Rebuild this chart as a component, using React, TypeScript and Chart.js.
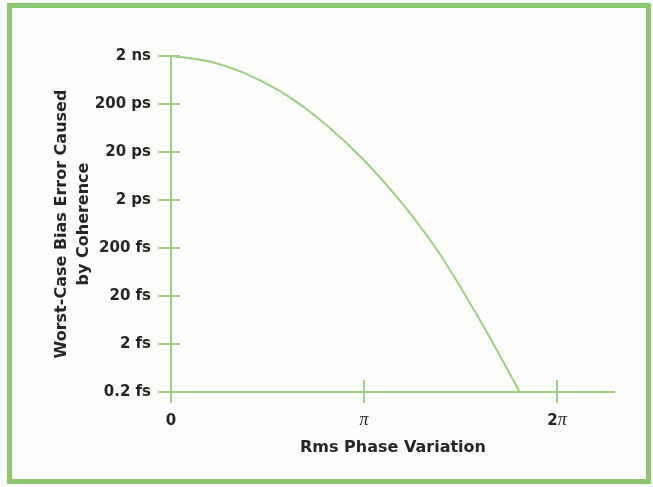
import React, { useEffect, useRef } from 'react';
import { Chart, registerables } from 'chart.js';

Chart.register(...registerables);

// Rms phase variation, in multiples of pi
const phaseInPi = [0, 0.2, 0.4, 0.6, 0.8, 1.0, 1.2, 1.4, 1.6, 1.7, 1.806];
// Worst-case bias error, in seconds
const biasSeconds = [2e-9, 1.53e-9, 8.1e-10, 3.03e-10, 7.6e-11, 1.35e-11, 1.66e-12, 1.35e-13, 6.3e-15, 1.22e-15, 2e-16];

const yTickValues = [2e-9, 2e-10, 2e-11, 2e-12, 2e-13, 2e-14, 2e-15, 2e-16];
const yTickLabels = ['2 ns', '200 ps', '20 ps', '2 ps', '200 fs', '20 fs', '2 fs', '0.2 fs'];
const xTickValues = [0, 1, 2];
const xTickLabels = ['0', 'π', '2π'];

const GREEN = '#9ccf82';
const FRAME = '#8cc670';
const TEXT = '#262626';
const SANS = '"DejaVu Sans", sans-serif';

const axesPlugin = {
  id: 'crossAxes',
  beforeDatasetsDraw(chart: any) {
    const { ctx } = chart;
    const xs = chart.scales.x;
    const ys = chart.scales.y;
    const x0 = xs.getPixelForValue(0);
    const yTop = ys.getPixelForValue(ys.max);
    const yBot = ys.getPixelForValue(ys.min);
    ctx.save();
    ctx.strokeStyle = GREEN;
    ctx.lineWidth = 2;
    ctx.beginPath();
    // y axis
    ctx.moveTo(x0, yTop);
    ctx.lineTo(x0, yBot + 11);
    // x axis
    ctx.moveTo(x0 - 13, yBot);
    ctx.lineTo(xs.right, yBot);
    // y ticks
    yTickValues.forEach((v) => {
      const py = ys.getPixelForValue(v);
      ctx.moveTo(x0 - 13, py);
      ctx.lineTo(x0 + 9, py);
    });
    // x ticks
    xTickValues.forEach((v) => {
      if (v === 0) return;
      const px = xs.getPixelForValue(v);
      ctx.moveTo(px, yBot - 12);
      ctx.lineTo(px, yBot + 11);
    });
    ctx.stroke();

    // x tick labels: coefficient in bold sans, pi in italic serif
    ctx.fillStyle = TEXT;
    ctx.textBaseline = 'alphabetic';
    ctx.textAlign = 'left';
    const numFont = `bold 15px ${SANS}`;
    const piFont = `italic 18px "Liberation Serif", serif`;
    xTickValues.forEach((v, i) => {
      const label = xTickLabels[i];
      const hasPi = label.endsWith('π');
      const num = hasPi ? label.slice(0, -1) : label;
      ctx.font = numFont;
      const wn = ctx.measureText(num).width;
      ctx.font = piFont;
      const wp = hasPi ? ctx.measureText('π').width : 0;
      const px = xs.getPixelForValue(v);
      const sx = px - (wn + wp) / 2;
      ctx.font = numFont;
      ctx.fillText(num, sx, 425);
      if (hasPi) {
        ctx.font = piFont;
        ctx.fillText('π', sx + wn, 425);
      }
    });
    ctx.restore();
  },
};

export default function App() {
  const ref = useRef<HTMLCanvasElement>(null);

  useEffect(() => {
    if (!ref.current) return;
    const chart = new Chart(ref.current, {
      type: 'line',
      data: {
        datasets: [
          {
            data: phaseInPi.map((x, i) => ({ x, y: biasSeconds[i] })),
            borderColor: GREEN,
            borderWidth: 2,
            pointRadius: 0,
            cubicInterpolationMode: 'monotone',
            clip: false as any,
            fill: false,
          },
        ],
      },
      options: {
        animation: false,
        responsive: false,
        devicePixelRatio: 1,
        layout: { padding: { left: 0, top: 56, right: 38, bottom: 0 } },
        plugins: { legend: { display: false }, tooltip: { enabled: false } },
        scales: {
          x: {
            type: 'linear',
            position: 'bottom',
            min: 0,
            max: 2.3,
            grid: { display: false, drawTicks: false },
            border: { display: false },
            ticks: { display: false },
            afterFit: (s: any) => {
              s.height = 95;
            },
            title: {
              display: true,
              text: 'Rms Phase Variation',
              color: TEXT,
              font: { family: SANS, size: 16, weight: 'bold', lineHeight: 1.2 },
              padding: { top: 0, bottom: 29.4 },
            },
          },
          y: {
            type: 'logarithmic',
            position: 'left',
            min: 2e-16,
            max: 2e-9,
            grid: { display: false, drawTicks: false },
            border: { display: false },
            afterBuildTicks: (s: any) => {
              s.ticks = yTickValues.map((v) => ({ value: v }));
            },
            afterFit: (s: any) => {
              s.width = 171;
            },
            ticks: {
              padding: 20,
              color: TEXT,
              font: { family: SANS, size: 15, weight: 'bold' },
              callback: (_v: any, i: number) => yTickLabels[i],
              autoSkip: false,
            },
            title: {
              display: true,
              text: ['Worst-Case Bias Error Caused', 'by Coherence'],
              color: TEXT,
              font: { family: SANS, size: 16, weight: 'bold', lineHeight: 1.35 },
              padding: { top: 51.2, bottom: 0 },
            },
          },
        },
      },
      plugins: [axesPlugin],
    } as any);
    return () => chart.destroy();
  }, []);

  return (
    <div style={{ position: 'fixed', left: 0, top: 0, width: 653, height: 487, background: '#fdfdfb' }}>
      <div
        style={{
          position: 'absolute',
          left: 7,
          top: 3,
          width: 644,
          height: 481,
          border: `5px solid ${FRAME}`,
          boxSizing: 'border-box',
          background: '#fefefc',
        }}
      />
      <canvas ref={ref} width={653} height={487} style={{ position: 'absolute', left: 0, top: 0 }} />
    </div>
  );
}
